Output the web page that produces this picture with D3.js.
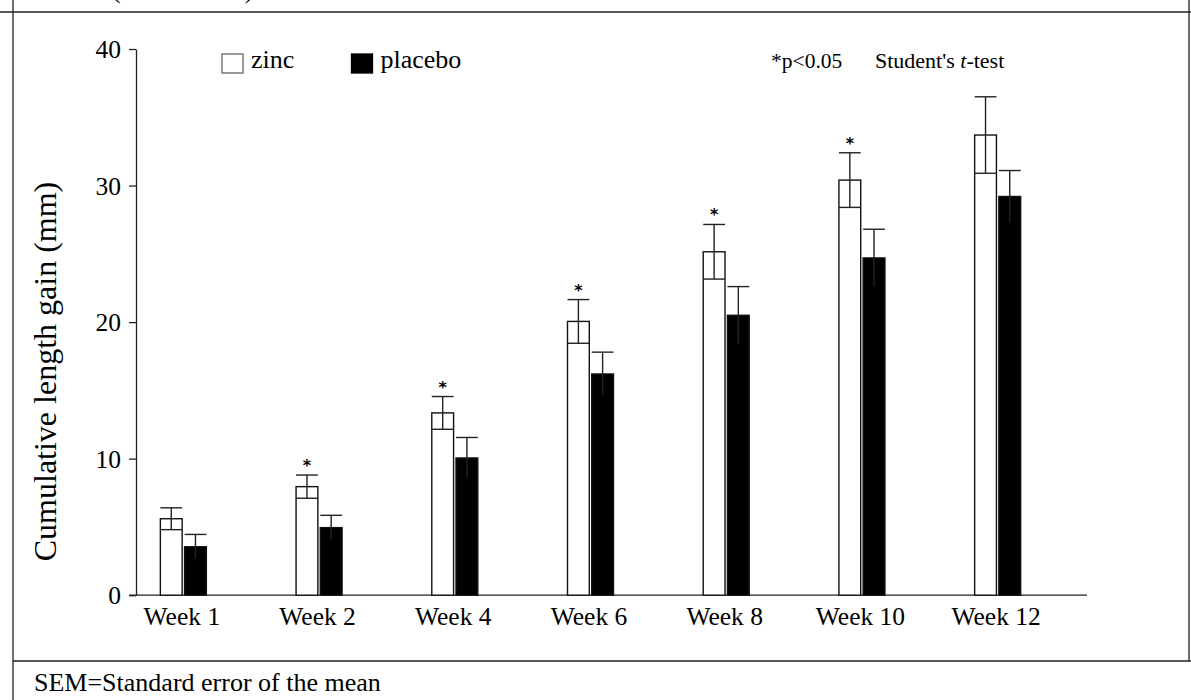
<!DOCTYPE html>
<html>
<head>
<meta charset="utf-8">
<script src="https://cdn.jsdelivr.net/npm/d3@7"></script>
<style>
  body { margin: 0; background: #fff; }
  text { font-family: "Liberation Serif", "Times New Roman", serif; fill: #000; }
</style>
</head>
<body>
<script>
var width = 1191, height = 700;

// data
var weeks = ["Week 1", "Week 2", "Week 4", "Week 6", "Week 8", "Week 10", "Week 12"];
var series = ["zinc", "placebo"];
var zincMean = [5.6, 7.95, 13.35, 20.05, 25.15, 30.4, 33.7];
var zincSem = [0.8, 0.85, 1.2, 1.6, 2.0, 2.0, 2.8];
var placeboMean = [3.55, 4.95, 10.05, 16.2, 20.5, 24.7, 29.2];
var placeboSem = [0.9, 0.9, 1.5, 1.6, 2.1, 2.1, 1.9];
var significant = [false, true, true, true, true, true, false];
var yTicks = [0, 10, 20, 30, 40];

var serif = "Liberation Serif, Times New Roman, serif";

var svg = d3.select("body")
    .append("svg")
    .attr("width", width)
    .attr("height", height);

// frame
svg.append("path")
    .attr("d", "M13,0V700M0,12H1191M13,661H1191M1189,0V661")
    .attr("stroke", "#222")
    .attr("stroke-width", 1.3)
    .attr("fill", "none");

// caption cut off at the top edge (as in the original)
svg.append("text")
    .attr("x", 112)
    .attr("y", -2)
    .style("font-family", serif)
    .style("font-size", "26px")
    .text("(mean±SEM)");

var y = d3.scaleLinear().domain([0, 40]).range([595.2, 49]);
var x0 = d3.scaleBand().domain(weeks).range([115.5, 1065.5]);
var x1 = d3.scaleBand().domain(series).range([-23, 23]).paddingInner(0.1);

var rows = weeks.map(function (w, i) {
    return { week: w, i: i, vals: [
        { s: "zinc", v: zincMean[i], e: zincSem[i] },
        { s: "placebo", v: placeboMean[i], e: placeboSem[i] }
    ] };
});

// y axis
var yAxis = svg.append("g")
    .attr("transform", "translate(136,0)")
    .call(d3.axisLeft(y).tickValues(yTicks).tickSize(7).tickSizeOuter(0).tickPadding(8));
yAxis.selectAll("path, line").attr("stroke", "#222").attr("stroke-width", 1.3);
yAxis.selectAll("text")
    .style("font-family", serif)
    .style("font-size", "25.5px")
    .attr("dy", "0.34em");

// x axis line
svg.append("line")
    .attr("x1", 129).attr("x2", 1087)
    .attr("y1", y(0)).attr("y2", y(0))
    .attr("stroke", "#222").attr("stroke-width", 1.3);

var xAxis = svg.append("g")
    .attr("transform", "translate(-1.5," + y(0) + ")")
    .call(d3.axisBottom(x0).tickSize(0).tickPadding(8));
xAxis.select(".domain").remove();
xAxis.selectAll("text")
    .style("font-family", serif)
    .style("font-size", "25.5px")
    .attr("dy", "0.86em");

// bars
var group = svg.selectAll("g.week")
    .data(rows)
    .enter().append("g")
    .attr("class", "week")
    .attr("transform", function (d) { return "translate(" + (x0(d.week) + x0.bandwidth() / 2) + ",0)"; });

group.selectAll("rect")
    .data(function (d) { return d.vals; })
    .enter().append("rect")
    .attr("x", function (d) { return x1(d.s); })
    .attr("y", function (d) { return y(d.v); })
    .attr("width", x1.bandwidth())
    .attr("height", function (d) { return y(0) - y(d.v); })
    .attr("fill", function (d) { return d.s == "zinc" ? "#fff" : "#000"; })
    .attr("stroke", "#111")
    .attr("stroke-width", 1.4);

// error bars
var err = group.selectAll("g.err")
    .data(function (d) { return d.vals; })
    .enter().append("g")
    .attr("class", "err")
    .attr("stroke", "#222")
    .attr("stroke-width", 1.4);

err.append("line")
    .attr("x1", function (d) { return x1(d.s) + x1.bandwidth() / 2; })
    .attr("x2", function (d) { return x1(d.s) + x1.bandwidth() / 2; })
    .attr("y1", function (d) { return y(d.v - d.e); })
    .attr("y2", function (d) { return y(d.v + d.e); });
err.append("line")
    .attr("x1", function (d) { return x1(d.s); })
    .attr("x2", function (d) { return x1(d.s) + x1.bandwidth(); })
    .attr("y1", function (d) { return y(d.v + d.e); })
    .attr("y2", function (d) { return y(d.v + d.e); });
err.filter(function (d) { return d.s == "zinc"; })
    .append("line")
    .attr("x1", function (d) { return x1(d.s); })
    .attr("x2", function (d) { return x1(d.s) + x1.bandwidth(); })
    .attr("y1", function (d) { return y(d.v - d.e); })
    .attr("y2", function (d) { return y(d.v - d.e); });

// significance stars
group.filter(function (d) { return significant[d.i]; })
    .append("text")
    .attr("x", x1("zinc") + x1.bandwidth() / 2)
    .attr("y", function (d) { return y(zincMean[d.i] + zincSem[d.i]) - 4; })
    .attr("text-anchor", "middle")
    .style("font-family", "DejaVu Sans, sans-serif")
    .style("font-weight", "bold")
    .style("font-size", "16px")
    .text("*");

// legend
var legend = svg.selectAll("g.legend")
    .data(series)
    .enter().append("g")
    .attr("class", "legend")
    .attr("transform", function (d, i) { return "translate(" + (222 + i * 129.5) + ",54)"; });
legend.append("rect")
    .attr("width", 21).attr("height", 19)
    .attr("fill", function (d) { return d == "zinc" ? "#fff" : "#000"; })
    .attr("stroke", function (d) { return d == "zinc" ? "#666" : "#000"; })
    .attr("stroke-width", 1.3);
legend.append("text")
    .attr("x", 29).attr("y", 14)
    .style("font-family", serif)
    .style("font-size", "26px")
    .text(function (d) { return d; });

// notes
svg.append("text")
    .attr("x", 771).attr("y", 68)
    .style("font-family", serif)
    .style("font-size", "21.5px")
    .text("*p<0.05");
var tt = svg.append("text")
    .attr("x", 875).attr("y", 68)
    .style("font-family", serif)
    .style("font-size", "22px");
tt.append("tspan").text("Student's ");
tt.append("tspan").style("font-style", "italic").text("t");
tt.append("tspan").text("-test");

// y label
svg.append("text")
    .attr("transform", "translate(56,371.5) rotate(-90)")
    .attr("text-anchor", "middle")
    .style("font-family", serif)
    .style("font-size", "32px")
    .text("Cumulative length gain (mm)");

// footer
svg.append("text")
    .attr("x", 34).attr("y", 691)
    .style("font-family", serif)
    .style("font-size", "26px")
    .text("SEM=Standard error of the mean");
</script>
</body>
</html>
